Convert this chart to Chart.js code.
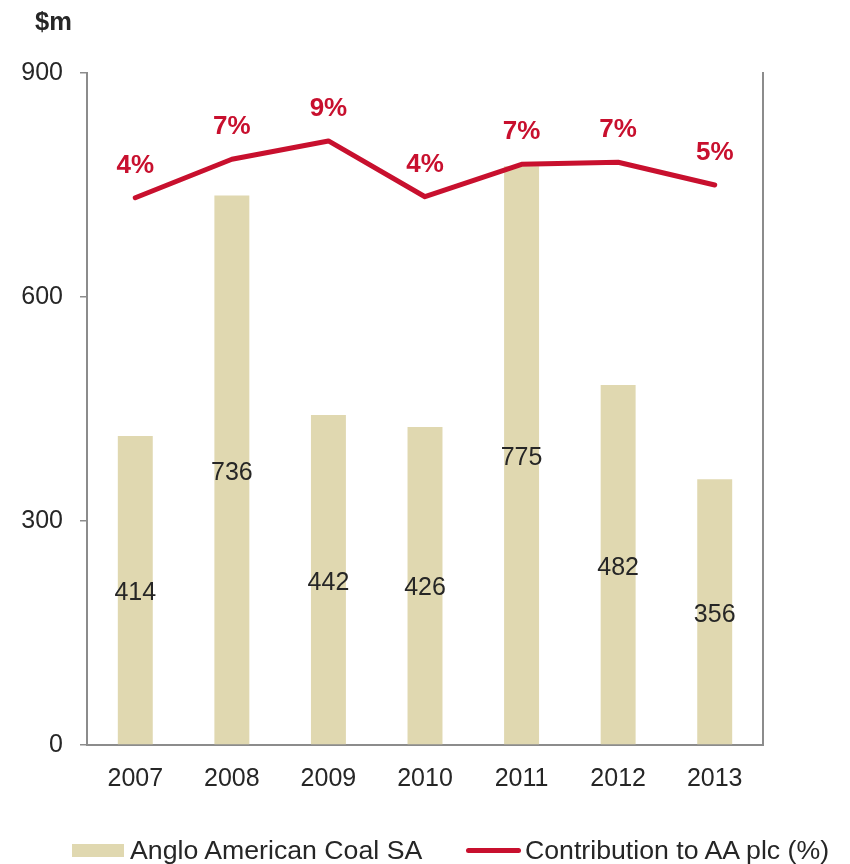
<!DOCTYPE html>
<html>
<head>
<meta charset="utf-8">
<script src="https://cdn.jsdelivr.net/npm/chart.js@4"></script>
<style>
  body { margin: 0; background: #fff; font-family: "Liberation Sans", Arial, sans-serif; color: #262626; }
  #wrap { position: relative; width: 850px; height: 864px; }
  #unit { position: absolute; left: 35px; top: 7px; font-size: 25.5px; font-weight: bold; }
  .leg { position: absolute; top: 835px; font-size: 26.7px; line-height: 30px; white-space: nowrap; }
  .swatch { position: absolute; }
</style>
</head>
<body>
<div id="wrap">
  <canvas id="chart" width="850" height="864"></canvas>
  <div id="unit">$m</div>
  <div class="swatch" style="left:72px;top:844px;width:52px;height:13px;background:#e0d8b0"></div>
  <div class="leg" style="left:130px">Anglo American Coal SA</div>
  <div class="swatch" style="left:466px;top:848px;width:55px;height:5px;border-radius:3px;background:#c8102e"></div>
  <div class="leg" style="left:525px">Contribution to AA plc (%)</div>
</div>
<script>
// values
const years = ['2007', '2008', '2009', '2010', '2011', '2012', '2013'];
const coalSA = [414, 736, 442, 426, 775, 482, 356];          // $m
const contribution = [3.82, 7.39, 9.09, 3.91, 6.92, 7.11, 5.0]; // % of AA plc
const yTicks = [0, 300, 600, 900];

const FONT = '"Liberation Sans", Arial, sans-serif';
const GREY = '#8c8c8c';
const RED = '#c8102e';

// labels inside the bars and above the line points
const labelPlugin = {
  id: 'labels',
  afterDatasetsDraw(chart) {
    const ctx = chart.ctx;
    ctx.save();
    ctx.textAlign = 'center';
    ctx.textBaseline = 'middle';

    const bars = chart.getDatasetMeta(1);
    ctx.font = '25px ' + FONT;
    ctx.fillStyle = '#262626';
    bars.data.forEach((el, i) => {
      ctx.fillText(String(coalSA[i]), el.x, (el.y + el.base) / 2 + 3);
    });

    const line = chart.getDatasetMeta(0);
    ctx.font = 'bold 26px ' + FONT;
    ctx.fillStyle = RED;
    line.data.forEach((el, i) => {
      ctx.fillText(Math.round(contribution[i]) + '%', el.x, el.y - 32);
    });
    ctx.restore();
  }
};

new Chart(document.getElementById('chart'), {
  data: {
    labels: years,
    datasets: [
      {
        type: 'line', label: 'Contribution to AA plc (%)', data: contribution, yAxisID: 'y2',
        borderColor: RED, borderWidth: 5, pointRadius: 0, tension: 0,
        borderCapStyle: 'round', borderJoinStyle: 'round', order: 1,
      },
      {
        type: 'bar', label: 'Anglo American Coal SA', data: coalSA, yAxisID: 'y',
        backgroundColor: '#e0d8b0', barPercentage: 0.362, categoryPercentage: 1, order: 2,
      },
    ],
  },
  options: {
    responsive: false,
    animation: false,
    events: [],
    layout: { padding: { top: 73, left: 0, right: 87, bottom: 59 } },
    plugins: { legend: { display: false }, tooltip: { enabled: false } },
    scales: {
      x: {
        grid: { display: false },
        border: { display: true, color: GREY, width: 2 },
        ticks: { color: '#262626', font: { family: FONT, size: 25 }, padding: 11, maxRotation: 0 },
        afterFit: s => { s.height = 60; },
      },
      y: {
        position: 'left', min: 0, max: 900,
        afterBuildTicks: s => { s.ticks = yTicks.map(v => ({ value: v })); },
        grid: { drawOnChartArea: false, drawTicks: true, tickLength: 7, color: GREY, lineWidth: 1.5 },
        border: { display: true, color: GREY, width: 2 },
        ticks: { color: '#262626', font: { family: FONT, size: 25 }, padding: 17 },
        afterFit: s => { s.width = 87; },
      },
      y2: {
        position: 'right', min: -47, max: 15.4,
        grid: { display: false },
        border: { display: true, color: GREY, width: 2 },
        ticks: { display: false },
        afterFit: s => { s.width = 0; },
      },
    },
  },
  plugins: [labelPlugin],
});
</script>
</body>
</html>
